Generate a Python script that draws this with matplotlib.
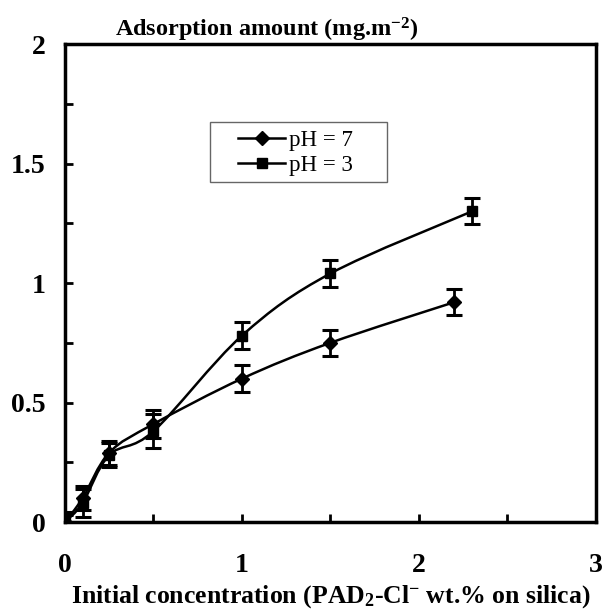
import matplotlib
matplotlib.use("Agg")
import matplotlib.pyplot as plt
import numpy as np
from matplotlib.path import Path
from matplotlib.patches import PathPatch, Rectangle
from matplotlib.lines import Line2D
from matplotlib.ticker import MultipleLocator

plt.rcParams['font.family'] = ['Liberation Serif', 'DejaVu Serif']
plt.rcParams['mathtext.fontset'] = 'custom'
plt.rcParams['mathtext.rm'] = 'Liberation Serif:bold'
plt.rcParams['mathtext.bf'] = 'Liberation Serif:bold'
plt.rcParams['mathtext.it'] = 'Liberation Serif:bold:italic'
plt.rcParams['mathtext.default'] = 'rm'

# data
conc_ph7 = [0, 0.1, 0.25, 0.5, 1.0, 1.5, 2.2]
ads_ph7 = [0.0, 0.10, 0.29, 0.41, 0.60, 0.75, 0.92]
err_ph7 = [0.03, 0.05, 0.05, 0.06, 0.055, 0.055, 0.055]

conc_ph3 = [0, 0.1, 0.25, 0.5, 1.0, 1.5, 2.3]
ads_ph3 = [0.0, 0.08, 0.28, 0.38, 0.78, 1.04, 1.30]
err_ph3 = [0.04, 0.06, 0.05, 0.07, 0.055, 0.055, 0.055]


def smooth_path(x, y):
    # excel-style smoothed line: bezier segments through the points
    p = np.column_stack([x, y]).astype(float)
    ext = np.vstack([p[0], p, p[-1]])
    verts = [p[0]]
    codes = [Path.MOVETO]
    for i in range(len(p) - 1):
        a, b, c, d = ext[i], ext[i + 1], ext[i + 2], ext[i + 3]
        verts += [b + (c - a) / 6, c - (d - b) / 6, c]
        codes += [Path.CURVE4] * 3
    return Path(verts, codes)


fig = plt.figure(figsize=(6.05, 6.14), dpi=100)
ax = fig.add_axes([0.1074, 0.1498, 0.8777, 0.7785])

for xs, ys, es, mk, ms in [(conc_ph7, ads_ph7, err_ph7, 'D', 7.5),
                           (conc_ph3, ads_ph3, err_ph3, 's', 6.5)]:
    ax.add_patch(PathPatch(smooth_path(xs, ys), fill=False, lw=1.8, color='black', zorder=3))
    ax.errorbar(xs, ys, yerr=es, fmt=mk, ms=ms, color='black', ecolor='black',
                elinewidth=2, capsize=5.5, capthick=2.2, zorder=4)

ax.set_xlim(0, 3)
ax.set_ylim(0, 2)
ax.xaxis.set_minor_locator(MultipleLocator(0.5))
ax.yaxis.set_minor_locator(MultipleLocator(0.25))
ax.set_yticks([0, 0.5, 1, 1.5, 2])
ax.set_yticklabels(['0', '0.5', '1', '1.5', '2'])
ax.set_xticks([0, 1, 2, 3])
ax.set_xticklabels(['0', '1', '2', '3'])

ax.tick_params(which='both', direction='in', length=6, width=2, labelsize=20)
ax.tick_params(axis='x', which='major', pad=22)
ax.tick_params(axis='y', which='major', pad=14)
for lab in ax.get_xticklabels() + ax.get_yticklabels():
    lab.set_fontweight('bold')
for s in ax.spines.values():
    s.set_linewidth(2.5)

ax.set_xlabel('Initial concentration (PAD$_2$-Cl$^{-}$ wt.% on silica)',
              fontsize=18.5, fontweight='bold', labelpad=4)
fig.text(115 / 605, 1 - 37 / 614, 'Adsorption amount (mg.m$^{-2}$)',
         fontsize=17.5, fontweight='bold', va='baseline', ha='left')

# legend frame drawn separately so the padding can match the original box
ax.add_patch(Rectangle((0.273, 0.711), 0.333, 0.126, transform=ax.transAxes,
                       fill=True, facecolor='white', edgecolor='#666666',
                       lw=1, zorder=5))
handles = [Line2D([], [], color='black', lw=1.8, marker='D', ms=7.5),
           Line2D([], [], color='black', lw=1.8, marker='s', ms=6.5)]
leg = ax.legend(handles, ['pH = 7', 'pH = 3'], loc='upper left',
                bbox_to_anchor=(0.326, 0.82), borderaxespad=0, borderpad=0,
                numpoints=1, frameon=False, prop={'size': 16.5},
                handlelength=2.05, handletextpad=0.15, labelspacing=0.15)
leg.set_zorder(6)

fig.savefig('out.png', dpi=100)
